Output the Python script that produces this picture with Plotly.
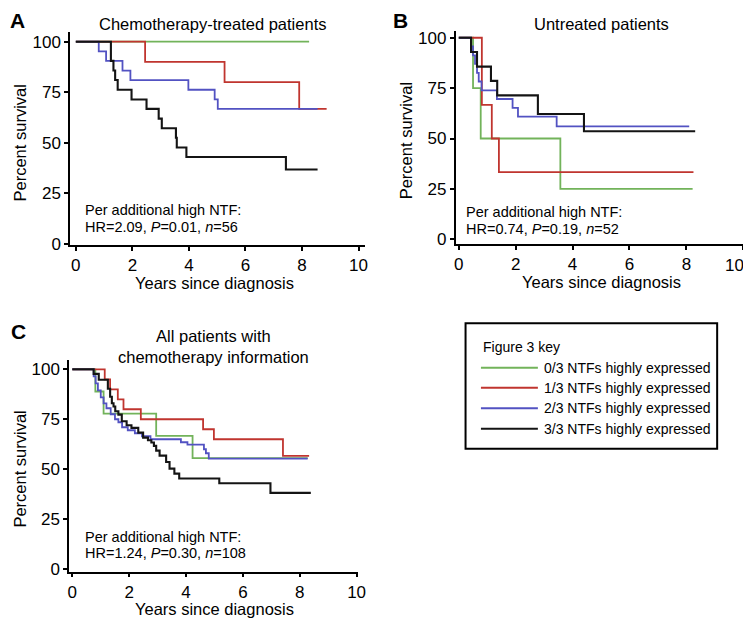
import plotly.graph_objects as go

W, H = 751, 622
FONT = "Liberation Sans, Arial, Helvetica, sans-serif"

# ---------------- data (Kaplan-Meier steps) ----------------
groups = ["0/3 NTFs highly expressed", "1/3 NTFs highly expressed",
          "2/3 NTFs highly expressed", "3/3 NTFs highly expressed"]
colors = ["#72b35a", "#c0352f", "#5252c2", "#141414"]

# Panel A: chemotherapy-treated
A_green_t = [0, 8.25]
A_green_s = [100, 100]
A_red_t = [0, 2.45, 5.26, 7.9, 8.87]
A_red_s = [100, 90, 80, 66.7, 66.7]
A_blue_t = [0, 0.81, 1.07, 1.65, 1.93, 3.98, 4.91, 5.02, 8.55]
A_blue_s = [100, 95.2, 90.5, 85.7, 81.0, 76.2, 71.4, 66.7, 66.7]
A_black_t = [0, 1.24, 1.33, 1.39, 1.48, 1.97, 2.5, 2.93, 3.04, 3.54, 3.57, 3.91, 7.43, 8.55]
A_black_s = [100, 90.5, 85.7, 81.0, 76.2, 71.4, 66.7, 61.9, 57.1, 52.4, 47.6, 42.9, 36.7, 36.7]

# Panel B: untreated
B_green_t = [0, 0.50, 0.77, 3.57, 8.22]
B_green_s = [100, 75, 50, 25, 25]
B_red_t = [0, 0.81, 1.16, 1.41, 8.25]
B_red_s = [100, 66.7, 50, 33.3, 33.3]
B_blue_t = [0, 0.43, 0.5, 0.57, 0.64, 0.7, 0.8, 1.34, 1.89, 2.08, 3.44, 8.1]
B_blue_s = [100, 95.7, 91.3, 87.0, 82.6, 78.3, 73.9, 69.6, 65.2, 60.9, 56.0, 56.0]
B_black_t = [0, 0.43, 0.64, 1.13, 1.35, 2.78, 4.4, 8.31]
B_black_s = [100, 92.9, 85.7, 78.6, 71.4, 62.2, 53.6, 53.6]

# Panel C: all patients with chemotherapy information
C_green_t = [0, 0.81, 1.1, 2.95, 4.23, 8.28]
C_green_s = [100, 88.9, 77.8, 66.7, 55.6, 55.6]
C_red_t = [0, 1.14, 1.33, 1.6, 1.8, 2.41, 4.6, 4.98, 7.41, 8.33]
C_red_s = [100, 95, 90, 85, 80, 75, 70, 65, 56.7, 56.7]
C_blue_t = [0, 0.75, 0.82, 0.9, 1.0, 1.1, 1.2, 1.35, 1.5, 1.62, 1.75, 1.95, 2.2, 2.45,
            2.75, 3.82, 4.05, 4.63, 4.7, 4.8, 8.28]
C_blue_s = [100, 96.5, 93, 89.5, 86, 83, 80.5, 77.5, 75, 73.5, 71, 69.5, 68, 66.5,
            65, 63.5, 62.3, 60, 58, 55.3, 55.3]
C_black_t = [0, 0.75, 0.93, 1.25, 1.33, 1.39, 1.45, 1.51, 1.62, 1.74, 1.91, 2.08, 2.32,
             2.49, 2.66, 2.78, 2.87, 2.95, 3.07, 3.3, 3.42, 3.59, 3.76, 5.17, 6.97, 8.39]
C_black_s = [100, 97.7, 94.8, 90.3, 86.3, 83, 81.4, 79, 77.3, 74, 72, 70.7, 68.3,
             65.8, 64.5, 63.4, 61.7, 59.3, 56.8, 53.6, 50.3, 47.8, 45.4, 43, 38.2, 38.2]

x_ticks = [0, 2, 4, 6, 8, 10]
x_ticktext = ["0", "2", "4", "6", "8", "10"]
y_ticks = [0, 25, 50, 75, 100]

panels = {
    "A": dict(xa="x", ya="y", curves=[(A_green_t, A_green_s), (A_red_t, A_red_s),
                                       (A_blue_t, A_blue_s), (A_black_t, A_black_s)]),
    "B": dict(xa="x2", ya="y2", curves=[(B_green_t, B_green_s), (B_red_t, B_red_s),
                                        (B_blue_t, B_blue_s), (B_black_t, B_black_s)]),
    "C": dict(xa="x3", ya="y3", curves=[(C_green_t, C_green_s), (C_red_t, C_red_s),
                                        (C_blue_t, C_blue_s), (C_black_t, C_black_s)]),
}

fig = go.Figure()
for key, p in panels.items():
    for gi, (t, s) in enumerate(p["curves"]):
        fig.add_trace(go.Scatter(
            x=t, y=s, mode="lines", line=dict(color=colors[gi], width=2.1 if gi == 3 else 1.8,
                                               shape="hv"),
            xaxis=p["xa"], yaxis=p["ya"], name=groups[gi], showlegend=False,
            hoverinfo="skip"))


def px_x(v):
    return v / W


def px_y(v):
    return 1 - v / H


def axis_common():
    return dict(showline=True, linecolor="black", linewidth=1.8, ticks="outside",
                ticklen=4, tickwidth=1.8, tickcolor="black", showgrid=False,
                zeroline=False, tickfont=dict(size=17, color="black", family=FONT),
                fixedrange=True)


layout = dict(
    width=W, height=H, margin=dict(l=0, r=0, t=0, b=0),
    paper_bgcolor="white", plot_bgcolor="white", showlegend=False,
    font=dict(family=FONT, color="black"),
)
layout["xaxis"] = dict(axis_common(), domain=[px_x(61), px_x(359.3)], range=[-0.2, 10.21],
                       tickvals=x_ticks, ticktext=x_ticktext, anchor="y")
layout["yaxis"] = dict(axis_common(), domain=[px_y(239), px_y(22)], range=[-0.6, 105],
                       tickvals=y_ticks, anchor="x")
# panel B: last x label drawn separately (it sits against the right edge)
layout["xaxis2"] = dict(axis_common(), domain=[px_x(451.7), px_x(744.3)], range=[-0.11, 10.04],
                        tickvals=x_ticks, ticktext=x_ticktext[:-1] + [""], anchor="y2")
layout["yaxis2"] = dict(axis_common(), domain=[px_y(238.3), px_y(21.7)], range=[-2.4, 103.2],
                        tickvals=y_ticks, anchor="x2")
layout["xaxis3"] = dict(axis_common(), domain=[px_x(60), px_x(352.7)], range=[-0.11, 10.05],
                        tickvals=x_ticks, ticktext=x_ticktext, anchor="y3")
layout["yaxis3"] = dict(axis_common(), domain=[px_y(571.7), px_y(356)], range=[-1.2, 104.8],
                        tickvals=y_ticks, anchor="x3")
fig.update_layout(**layout)

ann = []


def text(x, y, s, size=16, xanchor="center", angle=0):
    ann.append(dict(x=px_x(x), y=px_y(y), xref="paper", yref="paper", text=s,
                    showarrow=False, xanchor=xanchor, yanchor="middle", textangle=angle,
                    font=dict(size=size, family=FONT, color="black"),
                    align="center"))


# B's "10" tick label, nudged inside the page edge as in the reference
ann.append(dict(x=x_ticks[-1], y=px_y(260), xref="x2", yref="paper", text=x_ticktext[-1],
                showarrow=False, xanchor="right", yanchor="middle", xshift=3,
                font=dict(size=17, family=FONT, color="black")))

# panel letters
text(8, 11, "<b>A</b>", size=21)
text(396, 11, "<b>B</b>", size=21)
text(9, 327, "<b>C</b>", size=21)

# panel titles
text(205, 14, "Chemotherapy-treated patients", size=16.5)
text(599, 14, "Untreated patients", size=16.5)
text(206, 343, "All patients with<br>chemotherapy information", size=16.5)

# axis titles
for xc, yc in [(207, 278), (599, 277), (207, 610)]:
    text(xc, yc, "Years since diagnosis", size=16.5)
for xc, yc in [(10, 135), (401, 133), (10, 467)]:
    text(xc, yc, "Percent survival", size=16.5, angle=-90)

# statistics
stats = [
    (73.5, 204, 221, "HR=2.09, <i>P</i>=0.01, <i>n</i>=56"),
    (460, 206, 222.5, "HR=0.74, <i>P</i>=0.19, <i>n</i>=52"),
    (74, 536, 552.5, "HR=1.24, <i>P</i>=0.30, <i>n</i>=108"),
]
for xl, y1, y2, s in stats:
    text(xl, y1, "Per additional high NTF:", size=14.5, xanchor="left")
    text(xl, y2, s, size=14.5, xanchor="left")

# key box
shapes = [dict(type="rect", xref="paper", yref="paper",
               x0=px_x(461.7), x1=px_x(716.7), y0=px_y(446.7), y1=px_y(319),
               line=dict(color="black", width=2), fillcolor="rgba(0,0,0,0)")]
text(477.3, 343, "Figure 3 key", size=14, xanchor="left")
row_y = [364.3, 384.5, 405.3, 426.3]
for gi, g in enumerate(groups):
    shapes.append(dict(type="line", xref="paper", yref="paper",
                       x0=px_x(477.3), x1=px_x(535), y0=px_y(row_y[gi]), y1=px_y(row_y[gi]),
                       line=dict(color=colors[gi], width=2)))
    text(539, row_y[gi], g, size=14, xanchor="left")

fig.update_layout(annotations=ann, shapes=shapes)
fig.write_html("out.html")
